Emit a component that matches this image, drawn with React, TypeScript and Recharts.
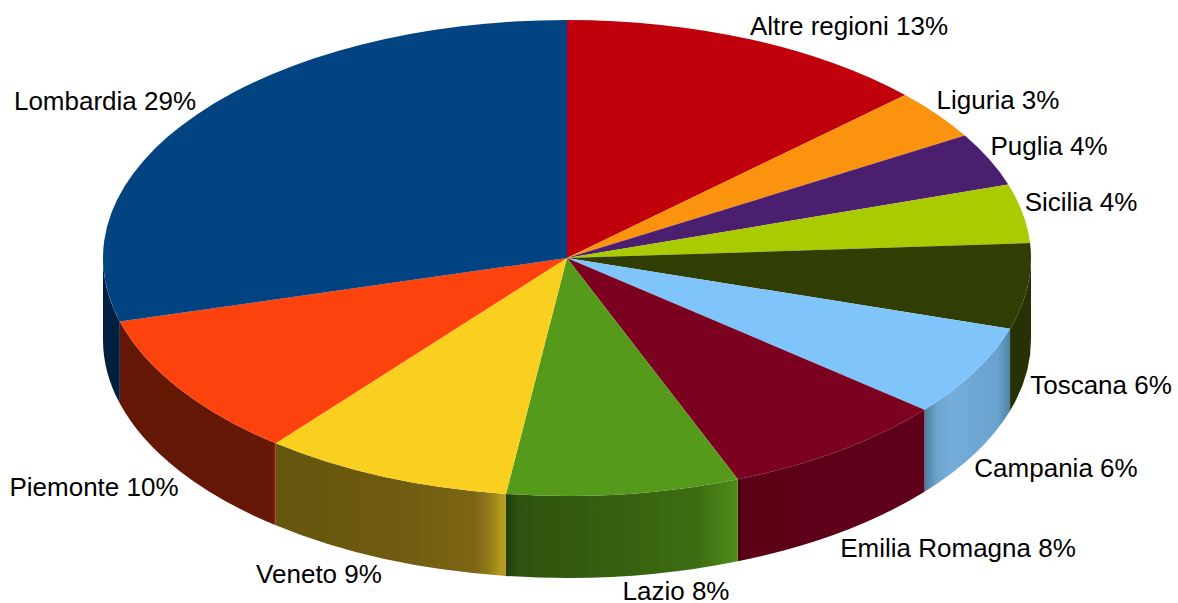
import { PieChart, Pie } from "recharts";

const regions = ["Altre regioni", "Liguria", "Puglia", "Sicilia", "Toscana", "Campania", "Emilia Romagna", "Lazio", "Veneto", "Piemonte", "Lombardia"];
// printed percentages
const printed = [13, 3, 4, 4, 6, 6, 8, 8, 9, 10, 29];
const shares = [13, 3.4, 3.6, 4, 5.8, 6.2, 8, 8.1, 8.7, 9.9, 29.3];
const topColors = ["#c0000b", "#fc930e", "#4b1f6f", "#aacb00", "#303e03", "#7fc4fb", "#7c0020", "#569a1b", "#f9d01f", "#fd420e", "#024382"];

// left to right shading of the rim of each slice, as [offset, colour]
const rimStops: [number, string][][] = [
  [], [], [], [],
  [[0, "#263203"], [1, "#263203"]],
  [[0, "#4d7c9c"], [0.14, "#6ca4cb"], [0.3, "#74aedb"], [0.6, "#6da7d6"], [0.85, "#6aa3cf"], [1, "#4f82a6"]],
  [[0, "#470012"], [0.04, "#5c0018"], [1, "#5e0019"]],
  [[0, "#223d09"], [0.06, "#2e530f"], [0.5, "#37610f"], [0.82, "#3d6c13"], [1, "#4f8e19"]],
  [[0, "#66550d"], [0.5, "#6e5b10"], [0.86, "#7c6614"], [0.92, "#8f7818"], [0.98, "#b59a20"], [1, "#b59a20"]],
  [[0, "#651706"], [0.98, "#661806"], [1, "#952a0a"]],
  [[0, "#00203f"], [1, "#00203f"]],
];

// label centres on the page
const labelX = [849, 998, 1049, 1081, 1101, 1056, 958, 676, 319, 94, 105];
const labelY = [26, 100, 146, 202, 385, 468, 548, 591, 574, 487, 101];

const data = regions.map((name, i) => ({ name, value: shares[i], printed: printed[i] }));

const SQUASH = 238 / 464;
const DEPTH = 82;
const rad = (a: number) => (a * Math.PI) / 180;

function Slice3D(props: any) {
  const { cx, cy, outerRadius, startAngle, endAngle, index } = props;
  const rx = outerRadius;
  const ry = outerRadius * SQUASH;
  const px = (a: number) => cx + rx * Math.cos(rad(a));
  const py = (a: number) => cy - ry * Math.sin(rad(a));
  const top = `M${cx},${cy} L${px(startAngle)},${py(startAngle)} A${rx},${ry} 0 0 1 ${px(endAngle)},${py(endAngle)} Z`;

  // only the front half of the rim can be seen
  const a0 = Math.min(startAngle, 0);
  const a1 = Math.max(endAngle, -180);
  const hasRim = a0 > a1 && rimStops[index].length > 0;
  const rim = `M${px(a0)},${py(a0)} A${rx},${ry} 0 0 1 ${px(a1)},${py(a1)} L${px(a1)},${py(a1) + DEPTH} A${rx},${ry} 0 0 0 ${px(a0)},${py(a0) + DEPTH} Z`;

  return (
    <g>
      {hasRim && (
        <>
          <defs>
            <linearGradient id={`rim${index}`} x1="0" y1="0" x2="1" y2="0">
              {rimStops[index].map(([o, c], i) => (
                <stop key={i} offset={o} stopColor={c} />
              ))}
            </linearGradient>
          </defs>
          <path d={rim} fill={`url(#rim${index})`} />
        </>
      )}
      <path d={top} fill={topColors[index]} />
    </g>
  );
}

function renderLabel(props: any) {
  const { index } = props;
  return (
    <text key={index} x={labelX[index]} y={labelY[index]} textAnchor="middle" dominantBaseline="central" fontFamily="'Liberation Sans', Arial, sans-serif" fontSize={26} fill="#000">
      {`${regions[index]} ${printed[index]}%`}
    </text>
  );
}

export default function App() {
  return (
    <div style={{ position: "absolute", left: 0, top: 0, width: 1178, height: 603, background: "#fff" }}>
      <PieChart width={1178} height={603} margin={{ top: 0, right: 0, bottom: 0, left: 0 }}>
        <Pie
          data={data}
          dataKey="value"
          nameKey="name"
          cx={567}
          cy={258}
          innerRadius={0}
          outerRadius={464}
          startAngle={90}
          endAngle={-270}
          stroke="none"
          shape={Slice3D}
          label={renderLabel}
          labelLine={false}
          isAnimationActive={false}
          rootTabIndex={-1}
        />
      </PieChart>
    </div>
  );
}
